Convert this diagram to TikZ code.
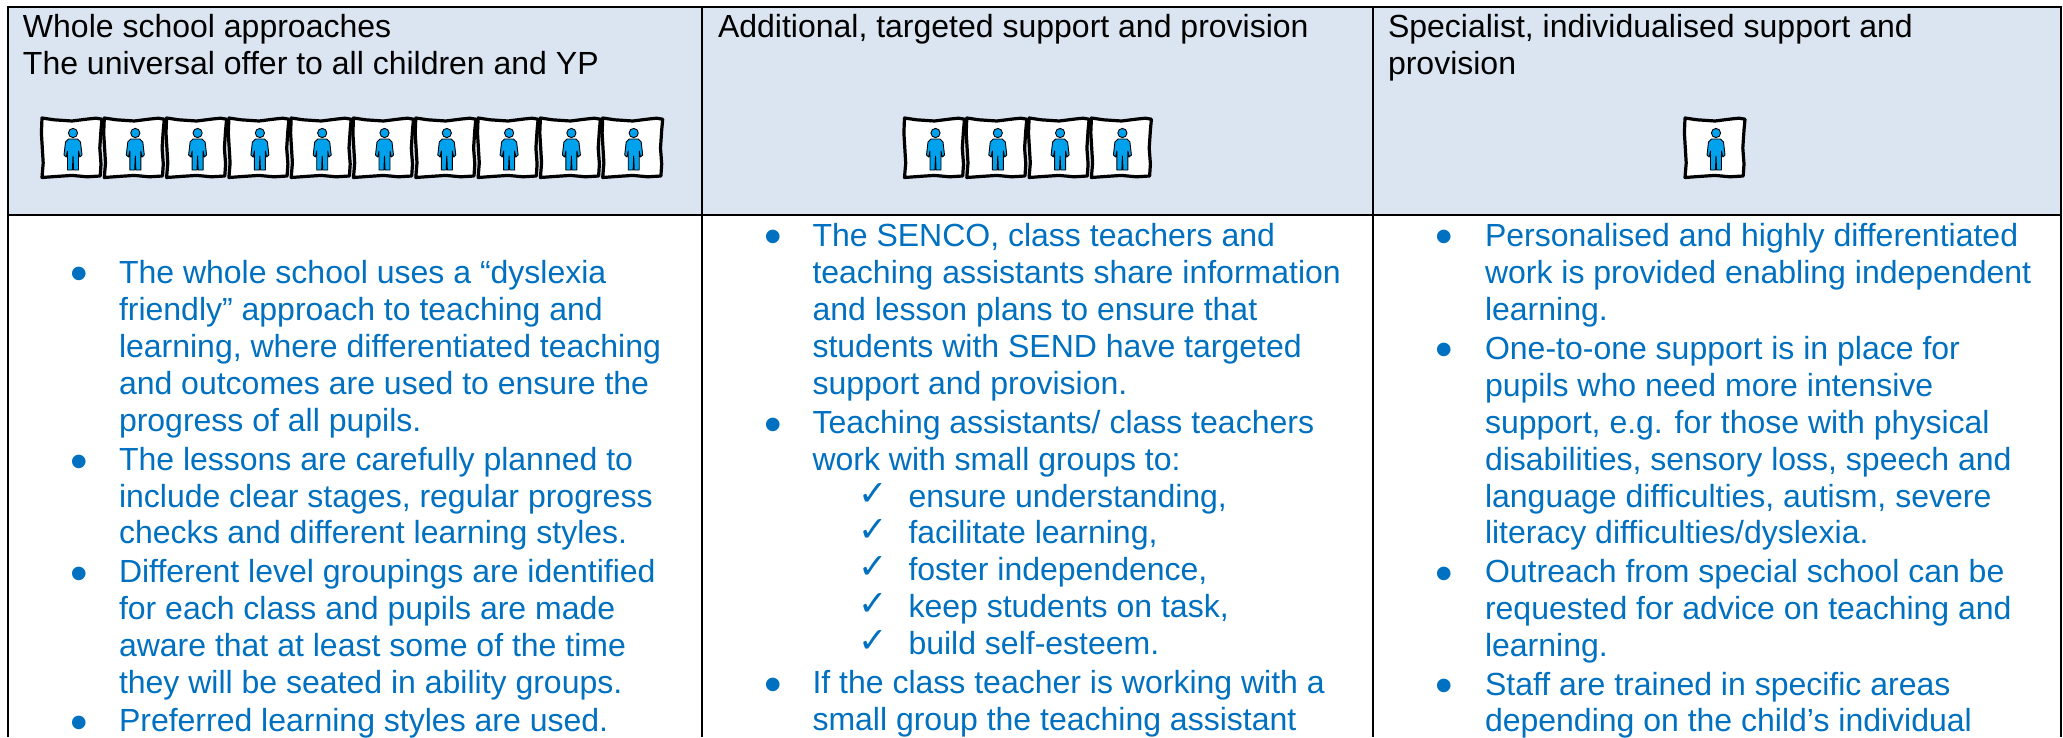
\documentclass[tikz,border=0pt]{standalone}
\usepackage{fontspec}
\setmainfont{Liberation Sans}
\newfontfamily\djv{DejaVu Sans}
\definecolor{hdrblue}{HTML}{DBE5F1}
\definecolor{txtblue}{HTML}{0070C0}
\definecolor{figblue}{HTML}{00A2EE}
\newcounter{tln}
\begin{document}
\begin{tikzpicture}[x=1pt,y=-1pt,
  hdrtext/.style={anchor=base west,inner sep=0pt,outer sep=0pt,text=black,font=\fontsize{32}{37}\selectfont},
  bodytext/.style={anchor=base west,inner sep=0pt,outer sep=0pt,text=txtblue,font=\fontsize{32}{37}\selectfont},
  bulletmark/.style={anchor=base,inner sep=0pt,outer sep=0pt,text=txtblue,font=\fontsize{50}{50}\selectfont},
  checkmark/.style={anchor=base,inner sep=0pt,outer sep=0pt,text=txtblue,font=\djv\fontsize{35}{35}\selectfont},
  rule/.style={line width=2pt,black},
  personbox/.pic={
    \draw[line width=3.2pt,line join=round,fill=white] (0,0) -- (12,1.8) -- (30,3) -- (46,1) -- (54,0.2) -- (60,1.2)
      -- (59,12) -- (57.8,30) -- (59,46) -- (58.2,58) -- (45,58.8) -- (30,57.4) -- (15,58.4) -- (0,59.5)
      -- (1.2,45) -- (0.3,30) -- (-0.6,15) -- cycle;
    \draw[line width=0.9pt,fill=figblue,line join=round] (31,15) circle (4.6);
    \draw[line width=0.9pt,fill=figblue,line join=round] (26.5,21) -- (35.5,21) -- (38.5,24) -- (40,37) -- (37.8,39) -- (36.5,33)
      -- (36.5,52) -- (31.6,52) -- (31,38) -- (30.4,52) -- (25.5,52) -- (25.5,33) -- (24.2,39) -- (22,37) -- (23.5,24) -- cycle;
  }]
\newcommand{\tl}[4]{\stepcounter{tln}\node[#1] (t\arabic{tln}) at (#2,#3) {#4};}
\newcommand{\bu}[2]{\stepcounter{tln}\node[bulletmark] (t\arabic{tln}) at (#1+1,#2+7.5) {•};}
\newcommand{\ck}[1]{\stepcounter{tln}\node[checkmark] (t\arabic{tln}) at (873,#1-2) {✓};}
\useasboundingbox (0,0) rectangle (2063,737);
\fill[white] (0,0) rectangle (2063,737);
\fill[hdrblue] (8,7) rectangle (2061,215);
% rules
\coordinate (tl) at (8,7); \coordinate (tr) at (2061,7);
\coordinate (ml) at (8,215); \coordinate (mr) at (2061,215);
\coordinate (bl) at (8,737); \coordinate (br) at (2061,737);
\coordinate (a1) at (702,7); \coordinate (a2) at (702,737);
\coordinate (b1) at (1373,7); \coordinate (b2) at (1373,737);
\draw[rule,line cap=rect] (tl) -- (tr) (ml) -- (mr);
\draw[rule] (tl) -- (bl) (tr) -- (br) (a1) -- (a2) (b1) -- (b2);
% header text
\tl{hdrtext}{23}{37}{Whole school approaches}
\tl{hdrtext}{23}{74}{The universal offer to all children and YP}
\tl{hdrtext}{718}{37}{Additional, targeted support and provision}
\tl{hdrtext}{1388}{37}{Specialist, individualised support and}
\tl{hdrtext}{1388}{74}{provision}
% pictograms
\foreach \i in {0,...,9} \pic at ({42+62.3*\i},118) {personbox};
\foreach \i in {0,...,3} \pic at ({904.5+62.3*\i},118) {personbox};
\pic at (1685,118) {personbox};
% column 1
\bu{78}{283.2}
\tl{bodytext}{119}{283.2}{The whole school uses a “dyslexia}
\tl{bodytext}{119}{320.2}{friendly” approach to teaching and}
\tl{bodytext}{119}{357.2}{learning, where differentiated teaching}
\tl{bodytext}{119}{394.2}{and outcomes are used to ensure the}
\tl{bodytext}{119}{431.2}{progress of all pupils.}
\bu{78}{470.5}
\tl{bodytext}{119}{470.5}{The lessons are carefully planned to}
\tl{bodytext}{119}{507.5}{include clear stages, regular progress}
\tl{bodytext}{119}{543.5}{checks and different learning styles.}
\bu{78}{582.5}
\tl{bodytext}{119}{582.5}{Different level groupings are identified}
\tl{bodytext}{119}{619.5}{for each class and pupils are made}
\tl{bodytext}{119}{656.5}{aware that at least some of the time}
\tl{bodytext}{119}{693.5}{they will be seated in ability groups.}
\bu{78}{731.8}
\tl{bodytext}{119}{731.8}{Preferred learning styles are used.}
% column 2
\bu{772}{246.2}
\tl{bodytext}{812.5}{246.2}{The SENCO, class teachers and}
\tl{bodytext}{812.5}{283.2}{teaching assistants share information}
\tl{bodytext}{812.5}{320.2}{and lesson plans to ensure that}
\tl{bodytext}{812.5}{357.2}{students with SEND have targeted}
\tl{bodytext}{812.5}{394.2}{support and provision.}
\bu{772}{433.9}
\tl{bodytext}{812.5}{433.9}{Teaching assistants/ class teachers}
\tl{bodytext}{812.5}{470.5}{work with small groups to:}
\ck{507.5}
\tl{bodytext}{908.5}{507.5}{ensure understanding,}
\ck{543.5}
\tl{bodytext}{908.5}{543.5}{facilitate learning,}
\ck{580.5}
\tl{bodytext}{908.5}{580.5}{foster independence,}
\ck{617.5}
\tl{bodytext}{908.5}{617.5}{keep students on task,}
\ck{654.5}
\tl{bodytext}{908.5}{654.5}{build self-esteem.}
\bu{772}{693.5}
\tl{bodytext}{812.5}{693.5}{If the class teacher is working with a}
\tl{bodytext}{812.5}{730.5}{small group the teaching assistant}
% column 3
\bu{1443}{246.2}
\tl{bodytext}{1485}{246.2}{Personalised and highly differentiated}
\tl{bodytext}{1485}{283.2}{work is provided enabling independent}
\tl{bodytext}{1485}{320.2}{learning.}
\bu{1443}{359.2}
\tl{bodytext}{1485}{359.2}{One-to-one support is in place for}
\tl{bodytext}{1485}{396.2}{pupils who need more intensive}
\tl{bodytext}{1485}{433.2}{support, e.g. for those with physical}
\tl{bodytext}{1485}{470.5}{disabilities, sensory loss, speech and}
\tl{bodytext}{1485}{507.5}{language difficulties, autism, severe}
\tl{bodytext}{1485}{543.5}{literacy difficulties/dyslexia.}
\bu{1443}{582.5}
\tl{bodytext}{1485}{582.5}{Outreach from special school can be}
\tl{bodytext}{1485}{619.5}{requested for advice on teaching and}
\tl{bodytext}{1485}{656.5}{learning.}
\bu{1443}{695}
\tl{bodytext}{1485}{695}{Staff are trained in specific areas}
\tl{bodytext}{1485}{731.8}{depending on the child’s individual}
\end{tikzpicture}
\end{document}
